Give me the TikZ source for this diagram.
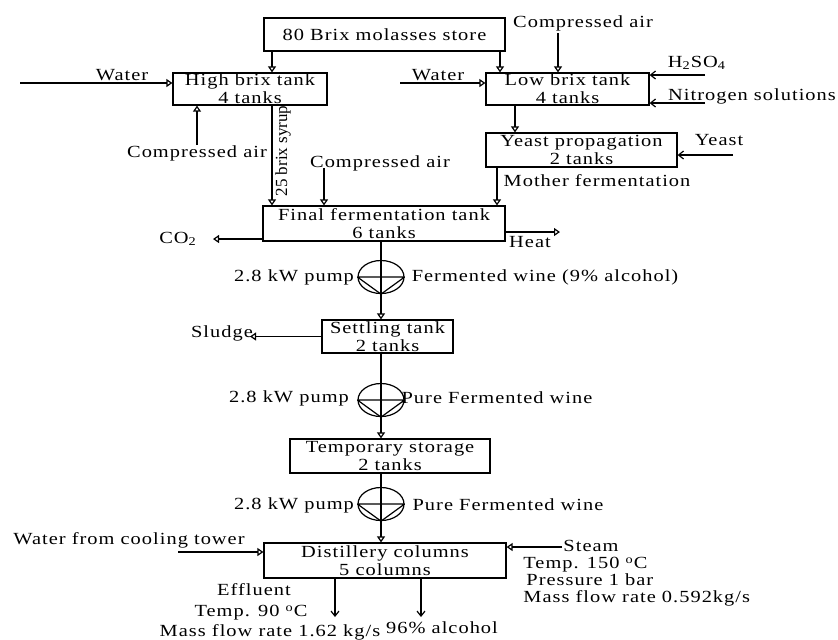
\documentclass[tikz,border=0pt]{standalone}
\usepackage{fontspec}
\setmainfont{Liberation Serif}[FakeStretch=1.2,LetterSpace=6]
\usetikzlibrary{arrows.meta,shapes.geometric}

\begin{document}
\begin{tikzpicture}[x=0.5pt,y=-0.5pt,
    tank/.style={draw,line width=0.6pt,inner sep=0pt,minimum height=17pt,align=center,font=\fontsize{8.5}{9}\selectfont},
    pump/.style={draw,ellipse,line width=0.6pt,inner sep=0pt,minimum width=23pt,minimum height=16.5pt},
    feed/.style={line width=0.6pt,-{Triangle[open,length=3pt,width=4pt]}},
    barb/.style={line width=0.6pt,-{Straight Barb[length=2.5pt,width=4pt]}},
    lbl/.style={inner sep=0pt,font=\fontsize{8.5}{8.5}\selectfont,align=left}]
	\useasboundingbox (0,0) rectangle (838,639);
	% tanks
	\node[tank,minimum width=120.5pt,minimum height=16.5pt] (store) at (384.5,34.5) {80 Brix molasses store};
	\node[tank,minimum width=77pt,minimum height=16pt] (high) at (250,89) {High brix tank\\4 tanks};
	\node[tank,minimum width=81.5pt,minimum height=16pt] (low) at (567.5,89) {Low brix tank\\4 tanks};
	\node[tank,minimum width=95.5pt] (yeastp) at (581.5,150) {Yeast propagation\\2 tanks};
	\node[tank,minimum width=121pt,minimum height=17.5pt] (ferm) at (384,223.5) {Final fermentation tank\\6 tanks};
	\node[tank,minimum width=65.5pt,minimum height=16.5pt] (settle) at (387.5,336.5) {Settling tank\\2 tanks};
	\node[tank,minimum width=100pt] (temp) at (390,456) {Temporary storage\\2 tanks};
	\node[tank,minimum width=121pt,minimum height=17.5pt] (dist) at (385,560.5) {Distillery columns\\5 columns};
	% pumps
	\node[pump] (pumpA) at (381,277) {};
	\node[pump] (pumpB) at (381,400) {};
	\node[pump] (pumpC) at (381,504) {};
	\foreach \p in {pumpA,pumpB,pumpC}
		\draw[line width=0.6pt] (\p.west) -- (\p.east) (\p.west) -- (\p.south) -- (\p.east);
	% free ends
	\coordinate (colA) at (272,0);
	\coordinate (colB) at (500,0);
	\coordinate (colD) at (515,0);
	\coordinate (colE) at (497,0);
	\coordinate (airA) at (197,145);
	\coordinate (airB) at (324,168);
	\coordinate (airC) at (558,33);
	\coordinate (waterA) at (20,83);
	\coordinate (waterB) at (400,83);
	\coordinate (acid) at (705,75);
	\coordinate (nitro) at (705,103);
	\coordinate (yeast) at (733,155);
	\coordinate (co2) at (213,239);
	\coordinate (heat) at (560,232);
	\coordinate (sludge) at (250,337);
	\coordinate (cool) at (178,552);
	\coordinate (steam) at (562,547);
	\coordinate (effl) at (335,617);
	\coordinate (alc) at (421,617);
	% flows
	\draw[feed] (store.south -| colA) -- (high.north -| colA);
	\draw[feed] (store.south -| colB) -- (low.north -| colB);
	\draw[feed] (airC) -- (airC |- low.north);
	\draw[feed] (waterA) -- (waterA -| high.west);
	\draw[feed] (waterB) -- (waterB -| low.west);
	\draw[barb] (acid) -- (acid -| low.east);
	\draw[barb] (nitro) -- (nitro -| low.east);
	\draw[feed] (airA) -- (airA |- high.south);
	\draw[feed] (low.south -| colD) -- (yeastp.north -| colD);
	\draw[barb] (yeast) -- (yeast -| yeastp.east);
	\draw[feed] (high.south -| colA) -- (ferm.north -| colA);
	\draw[feed] (airB) -- (airB |- ferm.north);
	\draw[feed] (yeastp.south -| colE) -- (ferm.north -| colE);
	\draw[feed] (ferm.west |- co2) -- (co2);
	\draw[feed] (ferm.east |- heat) -- (heat);
	\draw[feed] (ferm.south -| pumpA) -- (settle.north -| pumpA);
	\draw[feed] (settle.west) -- (sludge |- settle.west);
	\draw[feed] (settle.south -| pumpB) -- (temp.north -| pumpB);
	\draw[feed] (temp.south -| pumpC) -- (dist.north -| pumpC);
	\draw[feed] (cool) -- (cool -| dist.west);
	\draw[feed] (steam) -- (steam -| dist.east);
	\draw[barb] (dist.south -| effl) -- (effl);
	\draw[barb] (dist.south -| alc) -- (alc);
	% labels
	\node[lbl] (lairC) at (583,23) {Compressed air};
	\node[lbl] (lwaterA) at (122,75) {Water};
	\node[lbl] (lwaterB) at (438,75) {Water};
	\node[lbl] (lacid) at (697,63) {H\textsubscript{2}SO\textsubscript{4}};
	\node[lbl] (lnitro) at (752,96) {Nitrogen solutions};
	\node[lbl] (lyeast) at (719,140) {Yeast};
	\node[lbl] (lairA) at (197,153) {Compressed air};
	\node[lbl,rotate=90,font=\fontsize{8.5}{8}\selectfont\addfontfeature{LetterSpace=0,FakeStretch=1}] (lsyrup) at (283,151) {25 brix syrup};
	\node[lbl] (lairB) at (380,163) {Compressed air};
	\node[lbl] (lmother) at (597,181) {Mother fermentation};
	\node[lbl] (lco2) at (178,239) {CO\textsubscript{2}};
	\node[lbl] (lheat) at (530,242) {Heat};
	\node[lbl] (lpumpA) at (294,277) {2.8 kW pump};
	\node[lbl] (lwineA) at (545,277) {Fermented wine (9\% alcohol)};
	\node[lbl] (lsludge) at (222,333) {Sludge};
	\node[lbl] (lpumpB) at (289,398) {2.8 kW pump};
	\node[lbl] (lwineB) at (497,398) {Pure Fermented wine};
	\node[lbl] (lpumpC) at (294,505) {2.8 kW pump};
	\node[lbl] (lwineC) at (508,505) {Pure Fermented wine};
	\node[lbl] (lcool) at (129,540) {Water from cooling tower};
	\node[lbl] (lsteam) at (591,546) {Steam};
	\node[lbl,anchor=west] (lsteamdata) at (523,582) {Temp. 150 \textsuperscript{o}C\\\hspace{1.5pt}Pressure 1 bar\\Mass flow rate 0.592kg/s};
	\node[lbl] (leffl) at (254,590) {Effluent};
	\node[lbl] (lefflT) at (251,613) {Temp. 90 \textsuperscript{o}C};
	\node[lbl] (lefflM) at (270,632) {Mass flow rate 1.62 kg/s};
	\node[lbl] (lalc) at (442,628) {96\% alcohol};
\end{tikzpicture}
\end{document}
